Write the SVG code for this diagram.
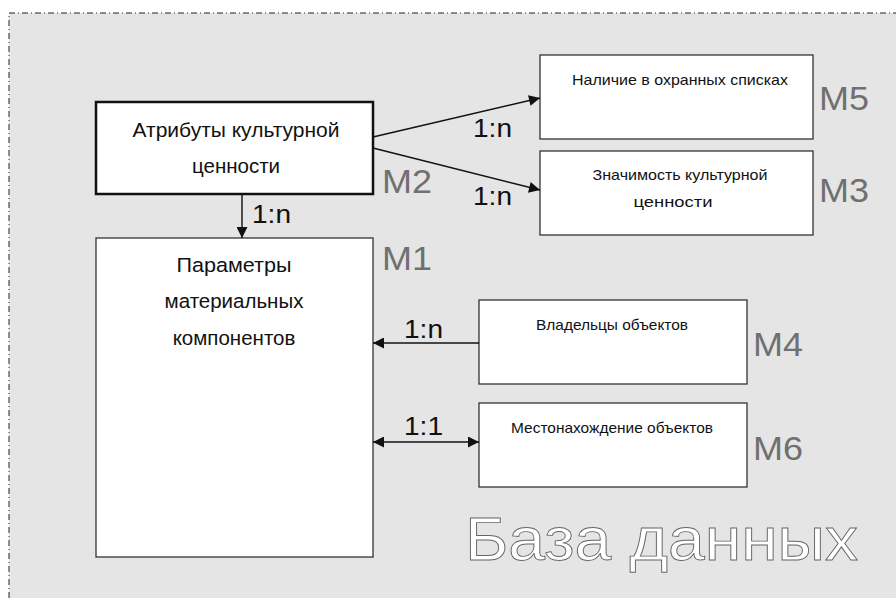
<svg xmlns="http://www.w3.org/2000/svg" width="896" height="598" viewBox="0 0 896 598">
<defs>
<style>
.box{fill:#fff;stroke:#333;stroke-width:1.3}
.t{font-family:"Liberation Sans",Arial,sans-serif;fill:#111;text-anchor:middle}
.big{font-size:20.5px}
.sm{font-size:15px}
.m{font-family:"Liberation Sans",Arial,sans-serif;font-size:34px;fill:#707070}
.r{font-family:"Liberation Sans",Arial,sans-serif;font-size:25px;fill:#111}
.c{stroke:#111;stroke-width:1.4;fill:none}
</style>
<marker id="ah" viewBox="0 0 10 10" refX="10" refY="5" markerWidth="14" markerHeight="11" markerUnits="userSpaceOnUse" orient="auto-start-reverse">
<path d="M0,0 L10,5 L0,10 z" fill="#111"/>
</marker>
</defs>
<rect x="0" y="0" width="896" height="598" fill="#fff"/>
<rect x="9" y="13" width="900" height="600" fill="#e5e5e5"/>
<path d="M9,598 L9,13 L896,13" fill="none" stroke="#222" stroke-width="1" stroke-dasharray="6,3,1,3"/>

<g id="M2">
<rect x="96" y="102" width="277" height="92" fill="#fff" stroke="#111" stroke-width="2.5"/>
<text class="t big" x="236" y="137" textLength="207" lengthAdjust="spacingAndGlyphs">Атрибуты культурной</text>
<text class="t big" x="236" y="173">ценности</text>
<text class="m" x="382" y="193" textLength="50" lengthAdjust="spacingAndGlyphs">M2</text>
</g>
<g id="M1">
<rect class="box" x="96" y="238" width="277" height="319"/>
<text class="t big" x="234" y="272" textLength="115" lengthAdjust="spacingAndGlyphs">Параметры</text>
<text class="t big" x="234" y="308">материальных</text>
<text class="t big" x="234" y="345">компонентов</text>
<text class="m" x="382" y="270" textLength="50" lengthAdjust="spacingAndGlyphs">M1</text>
</g>
<g id="M5">
<rect class="box" x="540" y="55" width="273" height="84"/>
<text class="t sm" x="680" y="85" textLength="216" lengthAdjust="spacingAndGlyphs">Наличие в охранных списках</text>
<text class="m" x="819" y="110" textLength="50" lengthAdjust="spacingAndGlyphs">M5</text>
</g>
<g id="M3">
<rect class="box" x="540" y="151" width="273" height="84"/>
<text class="t sm" x="680" y="180" textLength="175" lengthAdjust="spacingAndGlyphs">Значимость культурной</text>
<text class="t sm" x="673" y="207" textLength="79" lengthAdjust="spacingAndGlyphs">ценности</text>
<text class="m" x="819" y="202" textLength="50" lengthAdjust="spacingAndGlyphs">M3</text>
</g>
<g id="M4">
<rect class="box" x="479" y="300" width="268" height="84"/>
<text class="t sm" x="612" y="330" textLength="152" lengthAdjust="spacingAndGlyphs">Владельцы объектов</text>
<text class="m" x="753" y="356" textLength="50" lengthAdjust="spacingAndGlyphs">M4</text>
</g>
<g id="M6">
<rect class="box" x="479" y="403" width="268" height="84"/>
<text class="t sm" x="612" y="433" textLength="202" lengthAdjust="spacingAndGlyphs">Местонахождение объектов</text>
<text class="m" x="753" y="460" textLength="50" lengthAdjust="spacingAndGlyphs">M6</text>
</g>

<g id="connectors">
<line class="c" x1="373" y1="137" x2="540" y2="98" marker-end="url(#ah)"/>
<line class="c" x1="373" y1="148" x2="540" y2="190" marker-end="url(#ah)"/>
<line class="c" x1="242" y1="194" x2="242" y2="238" marker-end="url(#ah)"/>
<line class="c" x1="479" y1="343" x2="373" y2="343" marker-end="url(#ah)"/>
<line class="c" x1="373" y1="442" x2="479" y2="442" marker-start="url(#ah)" marker-end="url(#ah)"/>
<text class="r" x="473" y="137" textLength="39" lengthAdjust="spacingAndGlyphs">1:n</text>
<text class="r" x="473" y="205" textLength="39" lengthAdjust="spacingAndGlyphs">1:n</text>
<text class="r" x="252" y="223" textLength="39" lengthAdjust="spacingAndGlyphs">1:n</text>
<text class="r" x="404" y="338" textLength="39" lengthAdjust="spacingAndGlyphs">1:n</text>
<text class="r" x="404" y="435" textLength="39" lengthAdjust="spacingAndGlyphs">1:1</text>
</g>

<text x="465" y="560" font-family="'Liberation Sans',Arial,sans-serif" font-size="62" fill="#fff" stroke="#666" stroke-width="0.9" textLength="393" lengthAdjust="spacingAndGlyphs">База данных</text>
</svg>
